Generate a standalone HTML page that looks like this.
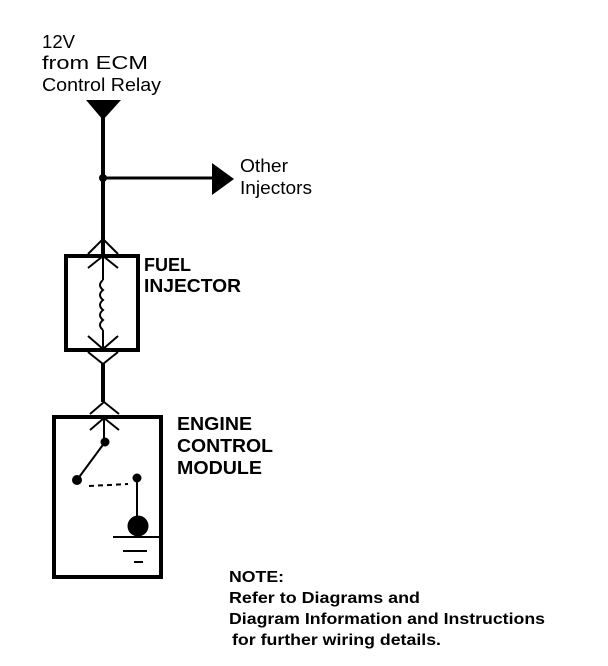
<!DOCTYPE html>
<html><head><style>
body{margin:0;background:#fff;width:608px;height:666px;overflow:hidden}
svg{display:block}
text{font-family:"Liberation Sans",sans-serif;fill:#000}
</style></head><body>
<svg width="608" height="666" viewBox="0 0 608 666">
<g font-size="18">
<text x="42" y="48" textLength="33" lengthAdjust="spacingAndGlyphs">12V</text>
<text x="42" y="69" textLength="106" lengthAdjust="spacingAndGlyphs">from ECM</text>
<text x="42" y="91" textLength="119" lengthAdjust="spacingAndGlyphs">Control Relay</text>
<text x="240" y="172" textLength="48" lengthAdjust="spacingAndGlyphs">Other</text>
<text x="240" y="194" textLength="72" lengthAdjust="spacingAndGlyphs">Injectors</text>
</g>
<g font-size="18" font-weight="bold">
<text x="144" y="271" textLength="47" lengthAdjust="spacingAndGlyphs">FUEL</text>
<text x="144" y="292" textLength="97" lengthAdjust="spacingAndGlyphs">INJECTOR</text>
<text x="177" y="430" textLength="75" lengthAdjust="spacingAndGlyphs">ENGINE</text>
<text x="177" y="452" textLength="96" lengthAdjust="spacingAndGlyphs">CONTROL</text>
<text x="177" y="474" textLength="85" lengthAdjust="spacingAndGlyphs">MODULE</text>
<text x="229" y="582" font-size="16" textLength="55" lengthAdjust="spacingAndGlyphs">NOTE:</text>
<text x="229" y="603" font-size="16" textLength="191" lengthAdjust="spacingAndGlyphs">Refer to Diagrams and</text>
<text x="229" y="624" font-size="16" textLength="316" lengthAdjust="spacingAndGlyphs">Diagram Information and Instructions</text>
<text x="232" y="645" font-size="16" textLength="209" lengthAdjust="spacingAndGlyphs">for further wiring details.</text>
</g>
<g stroke="#000" fill="none">
<polygon points="86,100 121,100 103,120" fill="#000" stroke="none"/>
<line x1="103" y1="118" x2="103" y2="254" stroke-width="4"/>
<circle cx="103" cy="178" r="4" fill="#000" stroke="none"/>
<line x1="103" y1="178" x2="214" y2="178" stroke-width="3"/>
<polygon points="212,163 234,179 212,195" fill="#000" stroke="none"/>
<polyline points="88,254 103,239 118,254" stroke-width="2"/>
<rect x="66" y="256" width="72" height="94" stroke-width="4"/>
<polyline points="88,268 103,256 118,268" stroke-width="2"/>
<line x1="103" y1="256" x2="103" y2="280" stroke-width="2"/>
<path d="M103,280 q-6,5 0,10 q-6,5 0,10 q-6,5 0,10 q-6,5 0,10 q-6,5 0,10" stroke-width="2"/>
<line x1="103" y1="330" x2="103" y2="350" stroke-width="2"/>
<polyline points="88,336 103,349 118,336" stroke-width="2"/>
<polyline points="88,352 103,364 118,352" stroke-width="2"/>
<line x1="103" y1="364" x2="103" y2="402" stroke-width="4"/>
<polyline points="90,414 104,402 119,414" stroke-width="2"/>
<rect x="54" y="417" width="107" height="160" stroke-width="4"/>
<polyline points="90,430 104,418 119,430" stroke-width="2"/>
<line x1="104" y1="418" x2="104" y2="442" stroke-width="2"/>
<circle cx="105" cy="442" r="4" fill="#000"/>
<line x1="105" y1="442" x2="77" y2="480" stroke-width="2"/>
<circle cx="77" cy="480" r="4.5" fill="#000"/>
<line x1="89" y1="486" x2="128" y2="484" stroke-width="2" stroke-dasharray="5,4"/>
<circle cx="137" cy="478" r="4" fill="#000"/>
<line x1="137" y1="478" x2="137" y2="520" stroke-width="2"/>
<circle cx="138" cy="526" r="10" fill="#000"/>
<line x1="113" y1="537" x2="162" y2="537" stroke-width="2"/>
<line x1="123" y1="551" x2="147" y2="551" stroke-width="2"/>
<line x1="134" y1="562" x2="143" y2="562" stroke-width="2"/>
</g>
</svg>
</body></html>
